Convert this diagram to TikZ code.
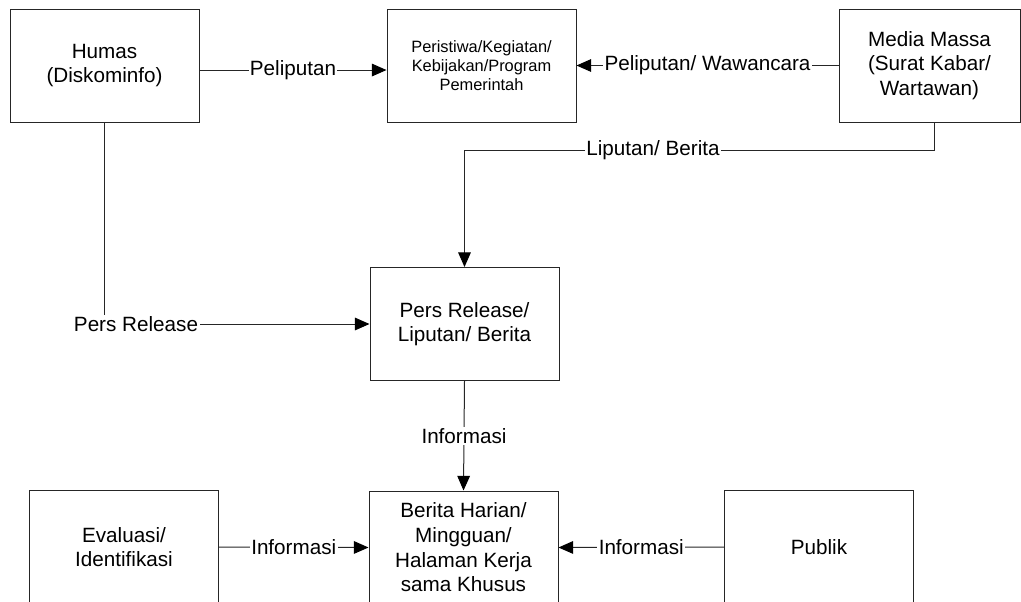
\documentclass[tikz,border=0pt]{standalone}
\usepackage{fontspec}
\setmainfont{Liberation Sans}
\usetikzlibrary{arrows.meta}

\tikzset{
  box/.style={draw, text=black, align=center, inner sep=0pt,
    minimum width=141.75pt, minimum height=84.75pt,
    font=\fontsize{15.5pt}{18.5pt}\selectfont},
  lbl/.style={fill=white, text=black, inner sep=1pt,
    font=\fontsize{15.5pt}{18.5pt}\selectfont}
}

\begin{document}
\begin{tikzpicture}[x=0.75pt, y=-0.75pt, black!85, line width=0.75pt,
    >={Triangle[length=11pt,width=9.5pt,color=black]}]
  \useasboundingbox (0,0) rectangle (1021,601);
  \clip (0,0) rectangle (1021,601);

  \node [box] (humas) at (104.5,65.5) {Humas\\(Diskominfo)};
  \node [box, font=\fontsize{12.3pt}{14.5pt}\selectfont] (peristiwa) at (481.5,65.5)
    {Peristiwa/Kegiatan/\\Kebijakan/Program\\Pemerintah};
  \node [box, minimum width=135.75pt] (media) at (929.5,65.5)
    {Media Massa\\(Surat Kabar/\\Wartawan)};
  \node [box] (pers) at (464.5,324) {Pers Release/\\Liputan/ Berita};
  \node [box] (evaluasi) at (124,547) {Evaluasi/\\Identifikasi};
  \node [box] (berita) at (463.5,547.5)
    {Berita Harian/\\Mingguan/\\Halaman Kerja\\sama Khusus};
  \node [box] (publik) at (819,547) {Publik};

  \node [lbl] (persrel) at (136,324) {Pers Release};
  \node [lbl] (liputan) at (653,150) {Liputan/ Berita};

  \draw [->] ([yshift=-3.4pt]humas.east) -- ([yshift=-3.4pt]peristiwa.west)
    node [lbl, midway] {Peliputan};
  \draw [->] (media.west) -- (peristiwa.east)
    node [lbl, midway] {Peliputan/ Wawancara};
  \draw ([xshift=3.4pt]media.south) |- (liputan.east);
  \draw [->] (liputan.west) -| (pers.north);
  \draw (humas.south) -- (humas.south |- persrel.north);
  \draw [->] (persrel.east) -- (pers.west);
  \draw [->] (pers.south) -- (berita.north) node [lbl, midway] {Informasi};
  \draw [->] (evaluasi.east) -- (berita.west) node [lbl, midway] {Informasi};
  \draw [->] (publik.west) -- (berita.east) node [lbl, midway] {Informasi};
\end{tikzpicture}
\end{document}
